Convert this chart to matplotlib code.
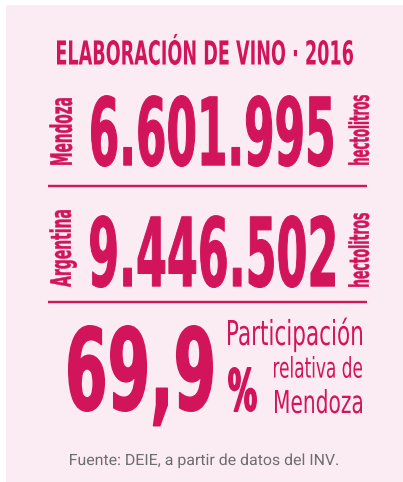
import matplotlib
matplotlib.use("Agg")
import matplotlib.pyplot as plt
from matplotlib.font_manager import FontProperties
from matplotlib.textpath import TextPath
from matplotlib.transforms import Affine2D
from matplotlib import patheffects
from matplotlib.patches import Rectangle

# ---------------- data ----------------
title = "ELABORACIÓN DE VINO · 2016"
regions = ["Mendoza", "Argentina"]
volumes_hl = [6601995, 9446502]
unit = "hectolitros"
share_pct = 69.9
share_label = ["Participación", "relativa de", "Mendoza"]
source = "Fuente: DEIE, a partir de datos del INV."

MAGENTA = "#D2145A"
BG = "#FBEBF2"
GREY = "#6E6E6E"
DPI = 100
W, H = 403, 482


def fmt_int(v):
    return f"{v:,}".replace(",", ".")


def fmt_pct(v):
    return f"{v:.1f}".replace(".", ",")


class Tall(patheffects.AbstractPathEffect):
    """Stretch glyphs perpendicular to the reading direction (condensed look)."""

    def __init__(self, ky, stroke_px=0.0):
        super().__init__()
        self.ky = ky
        self.stroke = stroke_px

    def draw_path(self, renderer, gc, tpath, affine, rgbFace=None):
        tr = Affine2D().scale(1.0, self.ky) + affine
        gc0 = renderer.new_gc()
        gc0.copy_properties(gc)
        if self.stroke > 0 and rgbFace is not None:
            gc0.set_linewidth(self.stroke * 72.0 / DPI)
            gc0.set_foreground(rgbFace)
            gc0.set_joinstyle("round")
        renderer.draw_path(gc0, tpath, tr, rgbFace)
        gc0.restore()


def place(ax, s, box, fam, weight, color, ref=None, rot=False, stroke=0.0):
    fp = FontProperties(family=fam, weight=weight)
    ink = TextPath((0, 0), s, size=1, prop=fp).get_extents()
    r = TextPath((0, 0), ref if ref else s, size=1, prop=fp).get_extents()
    h = stroke / 2.0
    if not rot:
        x0b, x1b, topb, botb = box
        fy = ((botb - h) - (topb + h)) / (r.y1 - r.y0)      # glyph height scale
        fx = ((x1b - h) - (x0b + h)) / (ink.x1 - ink.x0)   # glyph width scale
        py = (botb - h) + r.y0 * fy
        px = (x0b + h) - ink.x0 * fx
        kw = dict(rotation=0)
    else:
        xl, xr, yt, yb = box
        fy = ((xr - h) - (xl + h)) / (r.y1 - r.y0)
        fx = ((yb - h) - (yt + h)) / (ink.x1 - ink.x0)
        px = (xr - h) + r.y0 * fy
        py = (yb - h) + ink.x0 * fx
        kw = dict(rotation=90, rotation_mode="anchor")
    fp2 = fp.copy()
    fp2.set_size(fx * 72.0 / DPI)
    return ax.text(px, py, s, fontproperties=fp2, color=color,
                   ha="left", va="baseline",
                   path_effects=[Tall(fy / fx, stroke)], **kw)


fig = plt.figure(figsize=(W / DPI, H / DPI), dpi=DPI)
fig.patch.set_facecolor("white")
ax = fig.add_axes([0, 0, 1, 1])
ax.set_xlim(0, W)
ax.set_ylim(H, 0)
ax.axis("off")

ax.add_patch(Rectangle((6, 5), W - 6, H - 5, facecolor=BG, edgecolor="none", zorder=0))

BOLD = "DejaVu Sans"

# title
place(ax, title, (57, 353, 40, 65), BOLD, "bold", MAGENTA, ref="ELABORACION")

# two volume blocks
blocks = [
    dict(label_box=(50, 72, 98, 165), num_box=(91, 333, 95, 167), unit_box=(348, 369, 95, 165)),
    dict(label_box=(50, 71, 210, 287), num_box=(90, 335, 215, 288), unit_box=(348, 369, 213, 287)),
]
for reg, vol, b in zip(regions, volumes_hl, blocks):
    place(ax, reg, b["label_box"], BOLD, "bold", MAGENTA, ref=reg[0], rot=True, stroke=0.4)
    place(ax, fmt_int(vol), b["num_box"], BOLD, "bold", MAGENTA, stroke=1.0)
    place(ax, unit, b["unit_box"], BOLD, "bold", MAGENTA, ref="h", rot=True, stroke=0.4)

# separator lines
ax.hlines([186, 302], 48, 367, colors=MAGENTA, linewidth=2.4 * 72 / DPI, zorder=2)

# share block
place(ax, fmt_pct(share_pct), (68, 213, 325, 412), BOLD, "bold", MAGENTA, ref="69", stroke=1.5)
place(ax, "%", (228, 257, 367, 412), BOLD, "bold", MAGENTA, stroke=1.5)
place(ax, share_label[0], (228, 362, 320, 345), "DejaVu Sans", "normal", MAGENTA, ref="P")
place(ax, share_label[1], (274, 362, 356, 378), "DejaVu Sans", "normal", MAGENTA, ref="d")
place(ax, share_label[2], (275, 362, 390, 413), "DejaVu Sans", "normal", MAGENTA, ref="M")

# source
place(ax, source, (70, 338, 454, 465), "Roboto", "normal", GREY, ref="F")

fig.savefig("out.png", dpi=DPI, facecolor=fig.get_facecolor())
